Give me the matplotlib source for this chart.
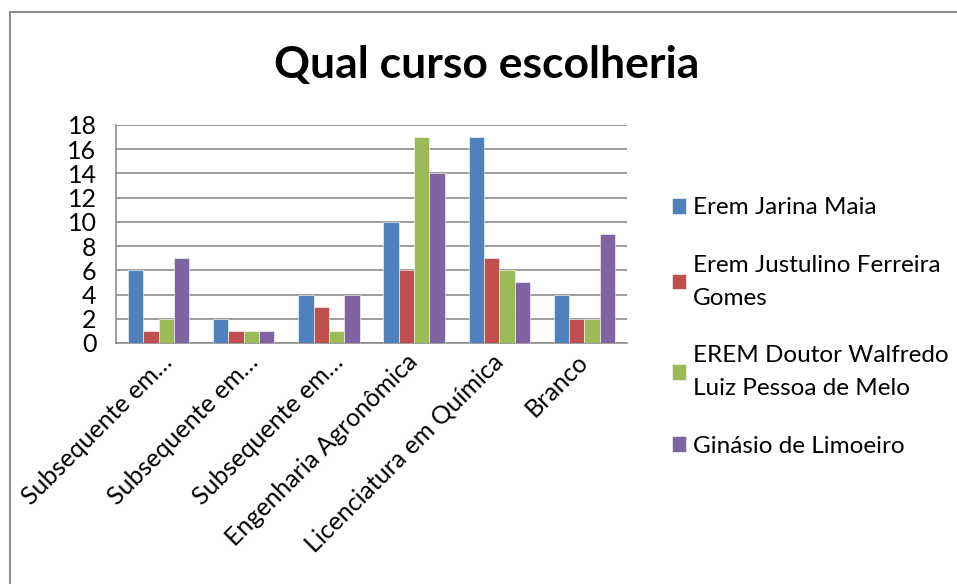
import numpy as np
import matplotlib.pyplot as plt
from matplotlib.patches import Rectangle
from matplotlib.transforms import ScaledTranslation

plt.rcParams['font.family'] = ['Lato', 'DejaVu Sans']

categories = ["Subsequente em…", "Subsequente em…", "Subsequente em…",
              "Engenharia Agronômica", "Licenciatura em Química", "Branco"]
series_names = ["Erem Jarina Maia", "Erem Justulino Ferreira\nGomes",
                "EREM Doutor Walfredo\nLuiz Pessoa de Melo", "Ginásio de Limoeiro"]
jarina = [6, 2, 4, 10, 17, 4]
justulino = [1, 1, 3, 6, 7, 2]
walfredo = [2, 1, 1, 17, 6, 2]
ginasio = [7, 1, 4, 14, 5, 9]
colors = ["#4F81BD", "#C0504D", "#9BBB59", "#8064A2"]

fig = plt.figure(figsize=(9.57, 5.84), dpi=100)
fig.patches.append(Rectangle((10 / 957, -0.01), 1.0, 1 - 12 / 584 + 0.01,
                             transform=fig.transFigure, fill=False,
                             edgecolor="#8c8c8c", linewidth=1.5))

ax = fig.add_axes([116 / 957, 1 - 343 / 584, 511 / 957, 218 / 584])
x = np.arange(len(categories))
w = 0.18
for i, vals in enumerate([jarina, justulino, walfredo, ginasio]):
    ax.bar(x + (i - 1.5) * w, vals, w, color=colors[i], label=series_names[i],
           edgecolor="white", linewidth=0.4, zorder=3)

ax.set_xlim(-0.5, len(categories) - 0.5)
ax.set_ylim(0, 18)
ax.set_yticks(range(0, 19, 2))
ax.yaxis.grid(True, color="#8c8c8c", linewidth=1.2, zorder=0)
ax.tick_params(axis="y", length=0, labelsize=18, pad=14)
ax.tick_params(axis="x", length=0, labelsize=18, pad=5)
ax.set_xticks(x)
ax.set_xticklabels(categories, rotation=45, ha="right", rotation_mode="anchor")
for lab in ax.get_xticklabels():
    dx = 2 if lab.get_text().endswith("…") else -8
    lab.set_transform(lab.get_transform() + ScaledTranslation(dx / 100, 0, fig.dpi_scale_trans))
for s in ["top", "right"]:
    ax.spines[s].set_visible(False)
for s in ["left", "bottom"]:
    ax.spines[s].set_color("#8c8c8c")
    ax.spines[s].set_linewidth(1.2)

fig.text(487 / 957, 1 - 65 / 584, "Qual curso escolheria", ha="center", va="center",
         fontsize=32, fontweight="bold")

leg = fig.legend(loc="center left", bbox_to_anchor=(650 / 957, 1 - 327 / 584),
                 frameon=False, fontsize=17.5, handlelength=0.6, handleheight=0.6,
                 handletextpad=0.25, labelspacing=1.5)
for t in leg.get_texts():
    t.set_linespacing(1.7)

fig.savefig("out.png", dpi=100)
